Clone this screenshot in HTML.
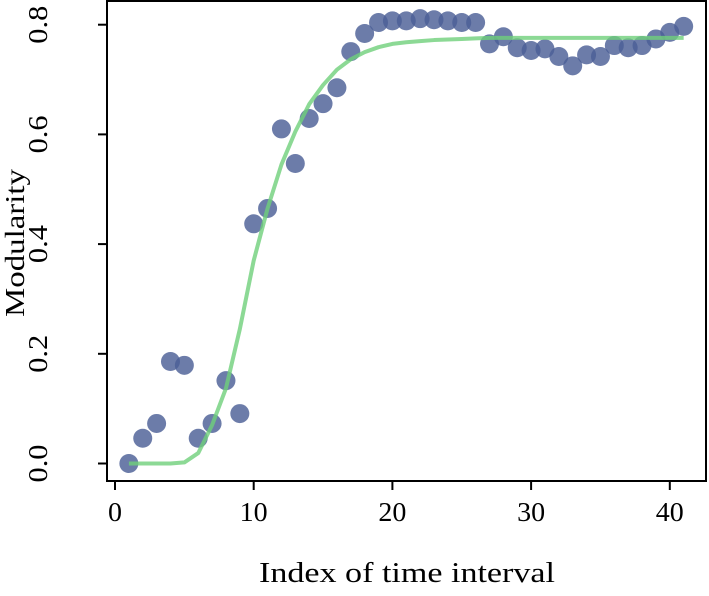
<!DOCTYPE html>
<html><head><meta charset="utf-8"><style>
body{margin:0;background:#fff}
svg text{font-family:"Liberation Serif",serif;fill:#000}
</style></head><body>
<svg id="c" width="709" height="591" xmlns="http://www.w3.org/2000/svg"></svg>
<script>
const xIdx=[1,2,3,4,5,6,7,8,9,10,11,12,13,14,15,16,17,18,19,20,21,22,23,24,25,26,27,28,29,30,31,32,33,34,35,36,37,38,39,40,41];
const modularity=[0.0,0.046,0.073,0.186,0.179,0.046,0.073,0.151,0.091,0.437,0.465,0.610,0.547,0.629,0.656,0.685,0.751,0.784,0.804,0.807,0.807,0.811,0.809,0.807,0.804,0.804,0.765,0.778,0.758,0.753,0.756,0.742,0.725,0.745,0.742,0.762,0.758,0.762,0.774,0.786,0.797];
const fitValues=[0,0,0,0,0.002,0.019,0.07,0.137,0.245,0.37,0.465,0.545,0.605,0.655,0.69,0.718,0.737,0.75,0.759,0.765,0.768,0.77,0.772,0.773,0.774,0.775,0.776,0.776,0.776,0.776,0.776,0.776,0.776,0.776,0.776,0.776,0.776,0.776,0.776,0.776,0.776];
const xTicks=[0,10,20,30,40];
const yTicks=[0.0,0.2,0.4,0.6,0.8];
const yTickLabels=["0.0","0.2","0.4","0.6","0.8"];
const NS="http://www.w3.org/2000/svg";
const svg=document.getElementById('c');
const sx=v=>115+v*13.87;
const sy=v=>463.5-v*548.5;
function mk(t,a,p){const e=document.createElementNS(NS,t);for(const k in a)e.setAttribute(k,a[k]);(p||svg).appendChild(e);return e;}
const frame=mk('rect',{x:107,y:1,width:599,height:480,fill:'none',stroke:'#000','stroke-width':2});


xTicks.forEach(t=>{
 const l=mk('line',{x1:sx(t),x2:sx(t),y1:481,y2:490,stroke:'#000','stroke-width':2});
 
 
 const s=String(t);
 const tx=mk('text',{x:sx(t),y:521,'text-anchor':'middle','font-size':27,textLength:s.length*14,lengthAdjust:'spacingAndGlyphs'});tx.textContent=s;
 
 
});
yTicks.forEach((t,i)=>{
 const l=mk('line',{x1:98,x2:107,y1:sy(t),y2:sy(t),stroke:'#000','stroke-width':2});
 
 
 const tx=mk('text',{x:0,y:0,'text-anchor':'middle','font-size':27,textLength:38,lengthAdjust:'spacingAndGlyphs',transform:`translate(47,${sy(t)}) rotate(-90)`});tx.textContent=yTickLabels[i];
 
 
});
const xt=mk('text',{x:407,y:582,'text-anchor':'middle','font-size':28,textLength:296,lengthAdjust:'spacingAndGlyphs'});xt.textContent='Index of time interval';


const yt=mk('text',{x:0,y:0,'text-anchor':'middle','font-size':27,textLength:148,lengthAdjust:'spacingAndGlyphs',transform:'translate(24,243) rotate(-90)'});yt.textContent='Modularity';


const g=mk('g',{});


xIdx.forEach((x,i)=>{
 const c=mk('circle',{cx:sx(x),cy:sy(modularity[i]),r:9.5,fill:'#4c5f96','fill-opacity':0.82},g);
 
 
});
const fit=mk('polyline',{points:xIdx.map((x,i)=>sx(x)+','+sy(fitValues[i])).join(' '),fill:'none',stroke:'#6fcf7a','stroke-opacity':0.8,'stroke-width':4,'stroke-linejoin':'round'});


</script>
</body></html>
